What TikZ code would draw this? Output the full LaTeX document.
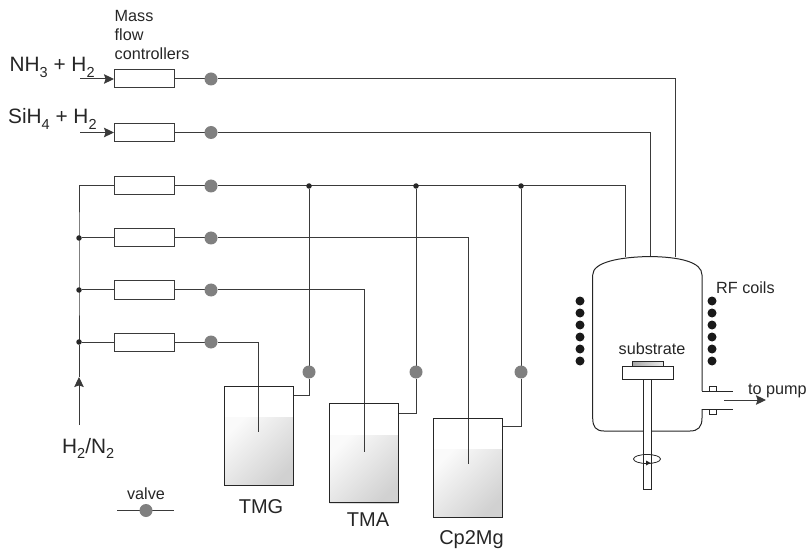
\documentclass[tikz,border=0pt]{standalone}
\usepackage{fontspec}
\setmainfont{Liberation Sans}
\usetikzlibrary{arrows.meta,calc,backgrounds}
\newcommand{\lowr}[1]{\raisebox{-5.5bp}{\fontsize{14.5bp}{14.5bp}\selectfont #1}}
\definecolor{ln}{HTML}{3A3A3A}
\definecolor{vg}{HTML}{808080}
\tikzset{
  pipe/.style={draw=ln,line width=1bp},
  body/.style={draw=black!85,line width=1bp},
  mfc/.style={draw=ln,line width=1bp,rectangle,minimum width=60bp,minimum height=18bp,inner sep=0pt,outer sep=0pt},
  valve/.style={circle,fill=vg,minimum size=13bp,inner sep=0pt,outer sep=0pt},
  joint/.style={circle,fill=black!85,minimum size=5.5bp,inner sep=0pt,outer sep=0pt},
  coil/.style={circle,fill=black!90,minimum size=9bp,inner sep=0pt,outer sep=0pt},
  big/.style={font=\fontsize{20bp}{24bp}\selectfont,inner sep=0pt,text=black!85},
  formula/.style={font=\fontsize{20.8bp}{24bp}\selectfont,inner sep=0pt,text=black!85},
  small/.style={font=\fontsize{16.2bp}{18.6bp}\selectfont,inner sep=0pt,text=black!85},
  tank/.style={draw=black!85,line width=1bp,rectangle,minimum width=69bp,minimum height=99bp,inner sep=0pt,outer sep=0pt},
  liquid/.style={rectangle,minimum width=69bp,minimum height=68bp,inner sep=0pt,outer sep=0pt,top color=black!2,bottom color=black!18,shading angle=45},
  tip/.style={-{Stealth[length=10bp,width=9.5bp,inset=1.5bp]}}
}
\begin{document}
\begin{tikzpicture}[x=1bp,y=-1bp]
\useasboundingbox (0,0) rectangle (812,552);
% liquid in the tanks
\begin{scope}[on background layer]
\node[liquid] (l1) at (258.5,451) {};
\node[liquid] (l2) at (364,469) {};
\node[liquid] (l3) at (467.5,483) {};
\end{scope}
% mass flow controllers
\node[mfc] (m1) at (144,79) {};
\node[mfc] (m2) at (144,132.5) {};
\node[mfc] (m3) at (144,186) {};
\node[mfc] (m4) at (144,238) {};
\node[mfc] (m5) at (144,290) {};
\node[mfc] (m6) at (144,342) {};
% valves
\node[valve] (v1) at (211,79) {};
\node[valve] (v2) at (211,132.5) {};
\node[valve] (v3) at (211,186) {};
\node[valve] (v4) at (211,238) {};
\node[valve] (v5) at (211,290) {};
\node[valve] (v6) at (211,342) {};
\node[valve] (w1) at (309,372) {};
\node[valve] (w2) at (416,372) {};
\node[valve] (w3) at (521,372) {};
% tanks
\node[tank] (t1) at (258.5,435.5) {};
\node[tank] (t2) at (364,453) {};
\node[tank] (t3) at (467.5,467.5) {};
% joints
\node[joint] (j1) at (309,186) {};
\node[joint] (j2) at (416,186) {};
\node[joint] (j3) at (521,186) {};
\node[joint] (h4) at (79,238) {};
\node[joint] (h5) at (79,290) {};
\node[joint] (h6) at (79,342) {};
% free ends
\coordinate (r1) at (675,257);
\coordinate (r2) at (650,256.5);
\coordinate (r3) at (625,257);
\coordinate (s1) at (80,79);
\coordinate (s2) at (80,132.5);
\coordinate (gas) at (79,425);
\coordinate (gastip) at (79,377);
\coordinate (d1) at (258,432);
\coordinate (d2) at (364,452);
\coordinate (d3) at (468,464);
\coordinate (e1) at (293,395);
\coordinate (e2) at (398.5,413);
\coordinate (e3) at (502,426);
% connectors
\begin{scope}[on background layer]
\draw[pipe] (m1) -- (v1);
\draw[pipe] (m2) -- (v2);
\draw[pipe] (m3) -- (v3);
\draw[pipe] (m4) -- (v4);
\draw[pipe] (m5) -- (v5);
\draw[pipe] (m6) -- (v6);
\draw[pipe] (v1) -| (r1);
\draw[pipe] (v2) -| (r2);
\draw[pipe] (v3) -| (r3);
\draw[pipe] (v4) -| (d3);
\draw[pipe] (v5) -| (d2);
\draw[pipe] (v6) -| (d1);
\draw[pipe] (j1) -- (w1);
\draw[pipe] (j2) -- (w2);
\draw[pipe] (j3) -- (w3);
\draw[pipe] (w1) |- (e1);
\draw[pipe] (w2) |- (e2);
\draw[pipe] (w3) |- (e3);
\draw[pipe] (m3.west) -| (h4.center) -- (h5.center) -- (h6.center);
\draw[pipe] (h4) -- (m4.west);
\draw[pipe] (h5) -- (m5.west);
\draw[pipe] (h6) -- (m6.west);
\draw[pipe] (h6) -- (gastip);
\end{scope}
\draw[pipe,tip] (s1) -- (m1.west);
\draw[pipe,tip] (s2) -- (m2.west);
\draw[pipe,tip] (gas) -- (gastip);
% reactor
\draw[body] (702,391) -- (702,275) .. controls (702,262) and (680,257) .. (650,256.5) .. controls (620,257) and (592.7,262) .. (592.7,275) -- (592.7,418) .. controls (592.7,427) and (596,431) .. (604,431) -- (690,431) .. controls (698,431) and (702,427) .. (702,418) -- (702,409);
% outlet
\draw[body] (702,391) -- (733,391);
\draw[body] (702,409) -- (733,409);
\draw[body] (709,391) |- (716,386) -- (716,391);
\draw[body] (709,409) |- (716,414) -- (716,409);
\coordinate (o1) at (724,400);
\coordinate (o2) at (766,400);
\draw[pipe,tip] (o1) -- (o2);
% coils
\foreach \i/\y in {1/301,2/313,3/325,4/337,5/349,6/361}{
  \node[coil] (cl\i) at (580,\y) {};
  \node[coil] (cr\i) at (712,\y) {};
}
% substrate holder
\shade[left color=black!35,right color=black!8] (632,361) rectangle (663,366);
\draw[body] (632,366) |- (663,361) -- (663,366);
\draw[body,fill=white] (622,366) rectangle (673,379);
\draw[body,fill=white] (643,379) rectangle (651,489);
\draw[body,line width=0.8bp] (647,459) ellipse [x radius=13.5,y radius=4.5];
\fill[black!85] (650.5,463) -- (646,460.5) -- (646,465.5) -- cycle;
% texts
\node[formula,anchor=base west] (nh) at (9.5,72) {NH\lowr{3} + H\lowr{2}};
\node[formula,anchor=base west] (si) at (8,124) {SiH\lowr{4} + H\lowr{2}};
\node[small,anchor=north west,align=left] (mf) at (114.5,10.5) {Mass\\flow\\controllers};
\node[formula,anchor=base west] (h2) at (62,453) {H\lowr{2}/N\lowr{2}};
\node[big,anchor=base] (tmg) at (261,513) {TMG};
\node[big,anchor=base] (tma) at (368,526) {TMA};
\node[big,anchor=base] (cp) at (471.5,544) {Cp2Mg};
\node[small,anchor=base] (st) at (652,354) {substrate};
\node[small,anchor=base west] (rf) at (716,294) {RF coils};
\node[small,anchor=base west] (tp) at (748,394) {to pump};
% legend
\node[small,anchor=base] (vl) at (146,499) {valve};
\node[valve] (lv) at (146,510.5) {};
\coordinate (la) at (117,510.5);
\coordinate (lb) at (174,510.5);
\begin{scope}[on background layer]
\draw[pipe] (la) -- (lb);
\end{scope}
\end{tikzpicture}
\end{document}
